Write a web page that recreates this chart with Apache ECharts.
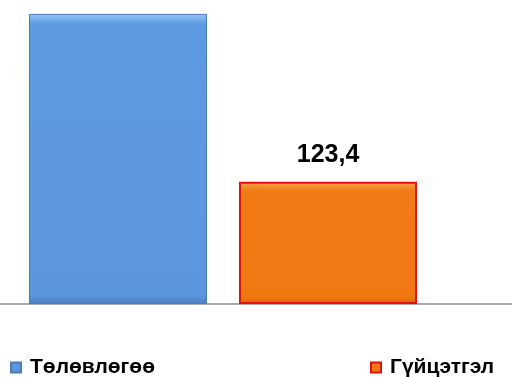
<!DOCTYPE html>
<html>
<head>
<meta charset="utf-8">
<script src="https://cdn.jsdelivr.net/npm/echarts@6/dist/echarts.min.js"></script>
<style>
  html, body { margin: 0; padding: 0; background: #fff; }
  #chart { width: 512px; height: 377px; }
</style>
</head>
<body>
<div id="chart"></div>
<script>
// Plan vs. actual, one category
const categories = [''];
const seriesNames = ['Төлөвлөгөө', 'Гүйцэтгэл'];
const planValues = [293];
const actualValues = [123.4];

const chart = echarts.init(document.getElementById('chart'));

const blueFill = new echarts.graphic.LinearGradient(0, 0, 0, 1, [
  { offset: 0, color: '#93c4f6' },
  { offset: 0.035, color: '#5e9ae0' },
  { offset: 0.97, color: '#5b96dc' },
  { offset: 1, color: '#4b80c2' }
]);
const orangeFill = new echarts.graphic.LinearGradient(0, 0, 0, 1, [
  { offset: 0, color: '#f8a24a' },
  { offset: 0.08, color: '#f07a14' },
  { offset: 0.94, color: '#ef7812' },
  { offset: 1, color: '#d9650c' }
]);

const legendText = {
  fontFamily: 'Liberation Sans, Arial, sans-serif',
  fontWeight: 'bold',
  fontSize: 21,
  color: '#000',
  padding: [0, 0, 0, 4]
};

chart.setOption({
  animation: false,
  grid: [
    // bars
    { left: 0, right: 66, top: 0, bottom: 73, containLabel: false },
    // full-width baseline
    { left: 0, right: 0, top: 0, bottom: 73, containLabel: false }
  ],
  xAxis: [
    {
      type: 'category',
      gridIndex: 0,
      data: categories,
      axisLine: { show: false },
      axisTick: { show: false },
      axisLabel: { show: false }
    },
    {
      type: 'category',
      gridIndex: 1,
      data: categories,
      axisLine: { show: true, lineStyle: { color: '#8c8c8c', width: 1.5 } },
      axisTick: { show: false },
      axisLabel: { show: false }
    }
  ],
  yAxis: [
    { type: 'value', gridIndex: 0, min: 0, max: 307, show: false, splitLine: { show: false } },
    { type: 'value', gridIndex: 1, min: 0, max: 307, show: false, splitLine: { show: false } }
  ],
  legend: [
    {
      data: [seriesNames[0]],
      left: 5,
      top: 352,
      icon: 'rect',
      itemWidth: 10,
      itemHeight: 10,
      textStyle: legendText
    },
    {
      data: [seriesNames[1]],
      left: 365,
      top: 352,
      icon: 'rect',
      itemWidth: 10,
      itemHeight: 10,
      textStyle: legendText
    }
  ],
  series: [
    {
      name: seriesNames[0],
      type: 'bar',
      data: planValues,
      barWidth: 178,
      barGap: '18%',
      itemStyle: { color: blueFill, borderColor: '#4a7cbc', borderWidth: 1 }
    },
    {
      name: seriesNames[1],
      type: 'bar',
      data: actualValues,
      barWidth: 178,
      itemStyle: { color: orangeFill, borderColor: '#e31010', borderWidth: 2 },
      label: {
        show: true,
        position: 'top',
        distance: 14,
        formatter: p => String(p.value).replace('.', ','),
        fontFamily: 'Liberation Sans, Arial, sans-serif',
        fontWeight: 'bold',
        fontSize: 25,
        color: '#000'
      }
    }
  ]
});
</script>
</body>
</html>
